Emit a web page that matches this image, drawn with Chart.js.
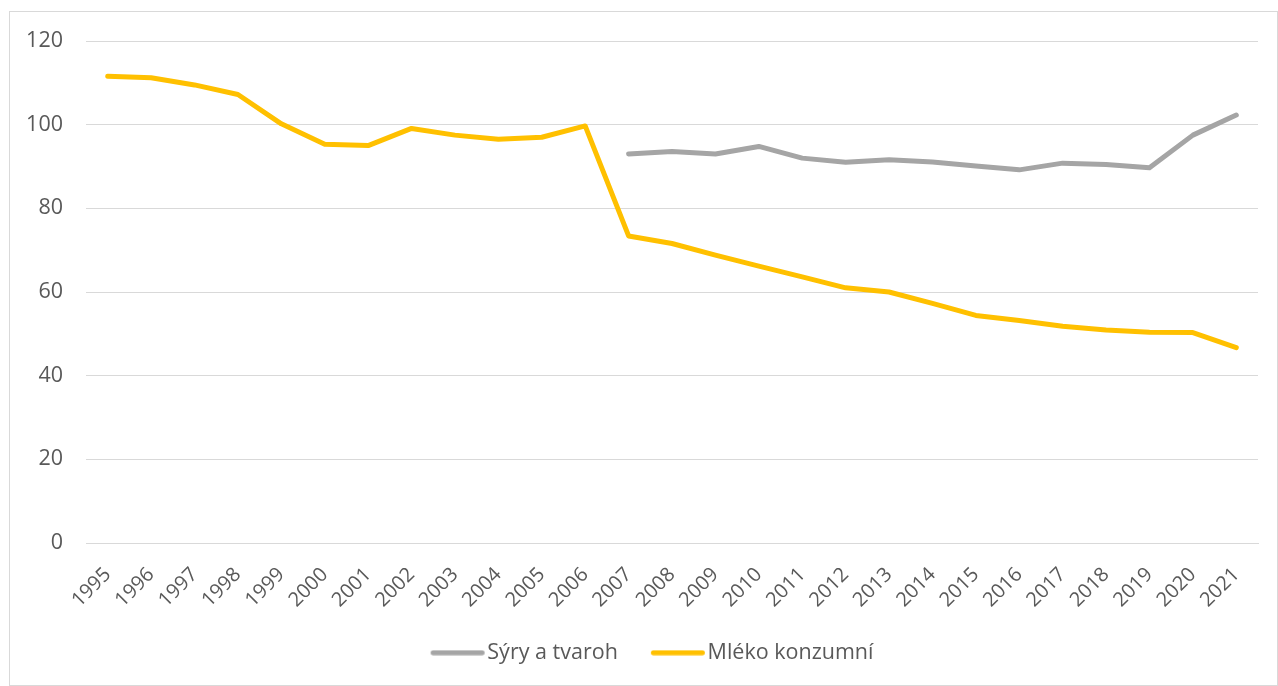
<!DOCTYPE html>
<html>
<head>
<meta charset="utf-8">
<script src="https://cdn.jsdelivr.net/npm/chart.js@4/dist/chart.umd.min.js"></script>
<style>
  html, body { margin: 0; padding: 0; background: #fff; }
  #box { position: absolute; left: 9px; top: 11px; width: 1267px; height: 673px; border: 1px solid #d9d9d9; }
  canvas { display: block; }
</style>
</head>
<body>
<div id="box"><canvas id="c" width="1267" height="673"></canvas></div>
<script>
const years = ["1995","1996","1997","1998","1999","2000","2001","2002","2003","2004","2005","2006","2007","2008","2009","2010","2011","2012","2013","2014","2015","2016","2017","2018","2019","2020","2021"];
const syry = [null,null,null,null,null,null,null,null,null,null,null,null,93.0,93.6,93.0,94.8,92.0,91.0,91.6,91.1,90.1,89.2,90.8,90.5,89.7,97.5,102.3];
const mleko = [111.6,111.2,109.5,107.2,100.2,95.3,95.0,99.1,97.5,96.5,97.0,99.7,73.4,71.6,68.8,66.2,63.6,61.0,60.0,57.3,54.4,53.2,51.8,50.9,50.4,50.3,46.7];
const yTicks = [0,20,40,60,80,100,120];
const seriesNames = ['Sýry a tvaroh', 'Mléko konzumní'];
const seriesColors = ['#A5A5A5', '#FFC000'];

const textColor = '#595959';
const fontFamily = "'Open Sans', 'Noto Sans', sans-serif";

// legend swatch: a 54px rounded line inside a 100px transparent image
function legendLine(color) {
  const cv = document.createElement('canvas');
  cv.width = 100; cv.height = 6;
  const g = cv.getContext('2d');
  g.strokeStyle = color; g.lineWidth = 5; g.lineCap = 'round';
  g.beginPath(); g.moveTo(40.5, 3); g.lineTo(89.5, 3); g.stroke();
  return cv;
}

new Chart(document.getElementById('c'), {
  type: 'line',
  data: {
    labels: years,
    datasets: [
      { label: seriesNames[0], data: syry, borderColor: seriesColors[0], backgroundColor: seriesColors[0],
        borderWidth: 5, pointRadius: 0, pointStyle: legendLine(seriesColors[0]), tension: 0,
        borderCapStyle: 'round', borderJoinStyle: 'round', spanGaps: false },
      { label: seriesNames[1], data: mleko, borderColor: seriesColors[1], backgroundColor: seriesColors[1],
        borderWidth: 5, pointRadius: 0, pointStyle: legendLine(seriesColors[1]), tension: 0,
        borderCapStyle: 'round', borderJoinStyle: 'round' }
    ]
  },
  options: {
    responsive: false,
    animation: false,
    events: [],
    layout: { padding: { left: 14, right: 19, top: 29, bottom: 11.5 } },
    plugins: {
      tooltip: { enabled: false },
      legend: {
        position: 'bottom',
        labels: {
          color: textColor,
          font: { family: fontFamily, size: 21.5 },
          usePointStyle: true, pointStyleWidth: 68, boxHeight: 6, padding: 11
        }
      }
    },
    scales: {
      x: {
        offset: true,
        grid: { display: false, drawTicks: false },
        border: { display: true, color: '#d9d9d9', width: 1 },
        ticks: { color: textColor, font: { family: fontFamily, size: 20 }, minRotation: 45, maxRotation: 45, autoSkip: false, padding: 20 },
        afterFit(s) { s.height = 88; }
      },
      y: {
        min: 0, max: 120,
        afterBuildTicks(s) { s.ticks = yTicks.map(v => ({ value: v })); },
        grid: { color: '#d9d9d9', lineWidth: 1, drawTicks: true, tickLength: 20, tickColor: 'rgba(0,0,0,0)' },
        border: { display: false },
        ticks: { color: textColor, font: { family: fontFamily, size: 21.5 }, padding: 3 },
        afterFit(s) { s.width = 62; }
      }
    }
  }
});
</script>
</body>
</html>
